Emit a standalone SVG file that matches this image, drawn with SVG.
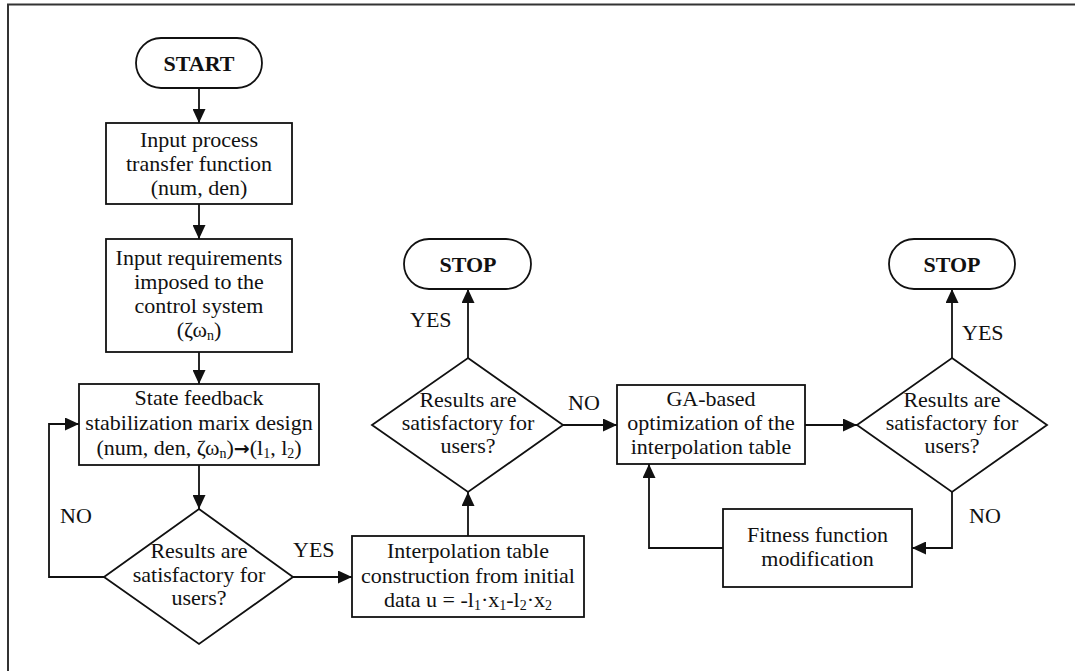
<svg xmlns="http://www.w3.org/2000/svg" width="1075" height="671" viewBox="0 0 1075 671">
<defs>
<style>
.s{fill:#fff;stroke:#111;stroke-width:1.8}
.c{fill:none;stroke:#111;stroke-width:1.8}
text{font-family:"Liberation Serif","Times New Roman",serif;font-size:22px;fill:#111}
.m{text-anchor:middle}
.b{font-weight:bold}
.sub{font-size:14px}
.arr{font-family:"DejaVu Sans",sans-serif;font-weight:bold;font-size:19px}
</style>
<marker id="ah" markerUnits="userSpaceOnUse" markerWidth="14" markerHeight="13" refX="14" refY="6.5" orient="auto">
<path d="M0,0 L14,6.5 L0,13 z" fill="#111"/>
</marker>
</defs>
<rect width="1075" height="671" fill="#fff"/>
<g id="frame"><path d="M8,671 V4.5 H1075" fill="none" stroke="#333" stroke-width="2"/></g>
<g id="connectors">
<path class="c" d="M199,88 V123" marker-end="url(#ah)"/>
<path class="c" d="M199,204 V239" marker-end="url(#ah)"/>
<path class="c" d="M199,352 V384" marker-end="url(#ah)"/>
<path class="c" d="M199,465 V509" marker-end="url(#ah)"/>
<path class="c" d="M104,577 H49 V424 H79" marker-end="url(#ah)"/>
<path class="c" d="M293,577 H352" marker-end="url(#ah)"/>
<path class="c" d="M468,536 V492" marker-end="url(#ah)"/>
<path class="c" d="M468,358 V289" marker-end="url(#ah)"/>
<path class="c" d="M563,425 H617" marker-end="url(#ah)"/>
<path class="c" d="M805,425 H857" marker-end="url(#ah)"/>
<path class="c" d="M952,358 V289" marker-end="url(#ah)"/>
<path class="c" d="M952,492 V548 H912" marker-end="url(#ah)"/>
<path class="c" d="M723,548 H649 V464" marker-end="url(#ah)"/>
<text x="60" y="523">NO</text>
<text x="293" y="557">YES</text>
<text x="410" y="327">YES</text>
<text x="568" y="410">NO</text>
<text x="962" y="340">YES</text>
<text x="969" y="523">NO</text>
</g>
<g id="start">
<rect class="s" x="136" y="38" width="126" height="50" rx="25"/>
<text class="m b" x="199" y="71">START</text>
</g>
<g id="input-tf">
<rect class="s" x="106" y="123" width="186" height="81"/>
<text class="m" x="199" y="147">Input process</text>
<text class="m" x="199" y="171">transfer function</text>
<text class="m" x="199" y="195">(num, den)</text>
</g>
<g id="input-req">
<rect class="s" x="106" y="239" width="186" height="113"/>
<text class="m" x="199" y="265">Input requirements</text>
<text class="m" x="199" y="289">imposed to the</text>
<text class="m" x="199" y="313">control system</text>
<text class="m" x="199" y="337">(ζω<tspan class="sub" dy="3">n</tspan><tspan dy="-3">)</tspan></text>
</g>
<g id="state-fb">
<rect class="s" x="79" y="384" width="240" height="81"/>
<text class="m" x="199" y="405">State feedback</text>
<text class="m" x="199" y="430">stabilization marix design</text>
<text class="m" x="199" y="455">(num, den, ζω<tspan class="sub" dy="3">n</tspan><tspan dy="-3">)</tspan><tspan class="arr">→</tspan><tspan>(l</tspan><tspan class="sub" dy="3">1</tspan><tspan dy="-3">, l</tspan><tspan class="sub" dy="3">2</tspan><tspan dy="-3">)</tspan></text>
</g>
<g id="decision1">
<polygon class="s" points="199,509 293,577 199,644 104,577"/>
<text class="m" x="199" y="558">Results are</text>
<text class="m" x="199" y="582">satisfactory for</text>
<text class="m" x="199" y="605">users?</text>
</g>
<g id="interp">
<rect class="s" x="352" y="536" width="232" height="81"/>
<text class="m" x="468" y="558">Interpolation table</text>
<text class="m" x="468" y="583">construction from initial</text>
<text class="m" x="468" y="607">data u = -l<tspan class="sub" dy="3">1</tspan><tspan dy="-3">·x</tspan><tspan class="sub" dy="3">1</tspan><tspan dy="-3">-l</tspan><tspan class="sub" dy="3">2</tspan><tspan dy="-3">·x</tspan><tspan class="sub" dy="3">2</tspan></text>
</g>
<g id="decision2">
<polygon class="s" points="468,358 563,425 468,492 372,425"/>
<text class="m" x="468" y="407">Results are</text>
<text class="m" x="468" y="430">satisfactory for</text>
<text class="m" x="468" y="453">users?</text>
</g>
<g id="stop1">
<rect class="s" x="404" y="239" width="127" height="50" rx="25"/>
<text class="m b" x="468" y="272">STOP</text>
</g>
<g id="ga">
<rect class="s" x="617" y="385" width="188" height="79"/>
<text class="m" x="711" y="406">GA-based</text>
<text class="m" x="711" y="430">optimization of the</text>
<text class="m" x="711" y="454">interpolation table</text>
</g>
<g id="decision3">
<polygon class="s" points="952,358 1047,425 952,492 857,425"/>
<text class="m" x="952" y="407">Results are</text>
<text class="m" x="952" y="430">satisfactory for</text>
<text class="m" x="952" y="453">users?</text>
</g>
<g id="stop2">
<rect class="s" x="889" y="239" width="126" height="50" rx="25"/>
<text class="m b" x="952" y="272">STOP</text>
</g>
<g id="fitness">
<rect class="s" x="723" y="509" width="189" height="78"/>
<text class="m" x="817.5" y="542">Fitness function</text>
<text class="m" x="817.5" y="566">modification</text>
</g>
</svg>
